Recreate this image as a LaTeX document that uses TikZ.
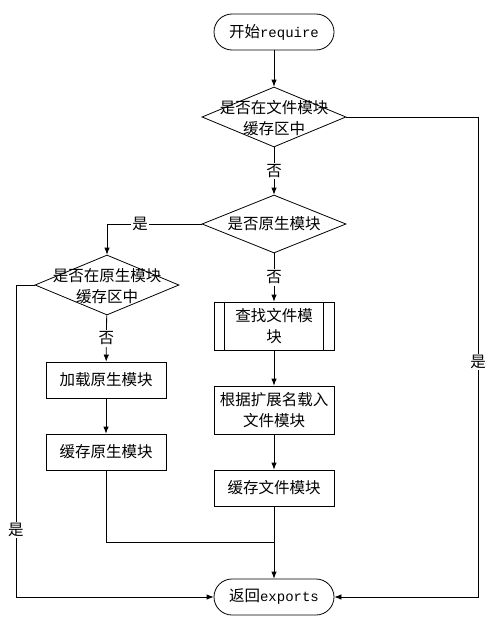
\documentclass[tikz,border=0pt]{standalone}
\usepackage{fontspec}
\setmainfont{Noto Sans CJK SC}
\newfontfamily\lat{Liberation Mono}
\usetikzlibrary{shapes.geometric,arrows.meta}
\begin{document}
\begin{tikzpicture}[x=1pt,y=-1pt,font=\fontsize{15.5}{21}\selectfont,line width=0.8pt,>={Latex[length=7pt,width=5.5pt]}]
\tikzset{
  term/.style={draw,rectangle,rounded corners=18pt,minimum width=120pt,minimum height=36pt,inner sep=0},
  dia/.style={draw,diamond,minimum width=144pt,minimum height=60pt,inner sep=0},
  proc/.style={draw,rectangle,minimum width=120pt,minimum height=36pt,inner sep=0,align=center},
  txt/.style={align=center,inner sep=0},
  lab/.style={fill=white,inner sep=1.5pt}
}
\useasboundingbox (0,0) rectangle (499,621);
\fill[white] (0,0) rectangle (499,621);
% nodes
\node[term] (start) at (274,32) {开始{\lat\fontsize{14}{16}\selectfont require}};
\node[dia] (d1) at (274,117) {};
\node[txt] (t1) at (274,118) {是否在文件模块\\缓存区中};
\node[dia,minimum height=58pt] (d2) at (274,224) {};
\node[txt] (t2) at (274,224) {是否原生模块};
\node[dia] (d3) at (107,285) {};
\node[txt] (t3) at (107,286) {是否在原生模块\\缓存区中};
\node[proc] (load) at (106,380) {加载原生模块};
\node[proc] (cachen) at (106,452) {缓存原生模块};
\node[proc,minimum height=48pt] (find) at (274,326) {查找文件模\\块};
\draw (find.north west) ++(11,0) -- ++(0,48);
\draw (find.north east) ++(-11,0) -- ++(0,48);
\node[proc,minimum height=48pt] (ext) at (274,410) {根据扩展名载入\\文件模块};
\node[proc] (cachef) at (274,488) {缓存文件模块};
\node[term] (ret) at (274,597) {返回{\lat\fontsize{14}{16}\selectfont exports}};
% helper coordinates
\coordinate (r2) at (478,597);
\coordinate (l1) at (16,285);
\coordinate (j) at (274,542);
% connectors
\draw[->] (start) -- (d1);
\draw[->] (d1.east) -| (r2) -- (ret.east);
\node[lab] (y1) at (478,362) {是};
\draw[->] (d1) -- node[lab] (n1) {否} (d2);
\draw[->] (d2.west) -| (d3.north);
\node[lab] (y2) at (140,224) {是};
\draw[->] (d2) -- node[lab] (n2) {否} (find);
\draw[->] (d3.west) -- (l1) |- (ret.west);
\node[lab] (y3) at (16,530) {是};
\draw[->] (d3) -- node[lab] (n3) {否} (load);
\draw[->] (load) -- (cachen);
\draw (cachen.south) |- (j);
\draw[->] (find) -- (ext);
\draw[->] (ext) -- (cachef);
\draw[->] (cachef) -- (ret);
\end{tikzpicture}
\end{document}
